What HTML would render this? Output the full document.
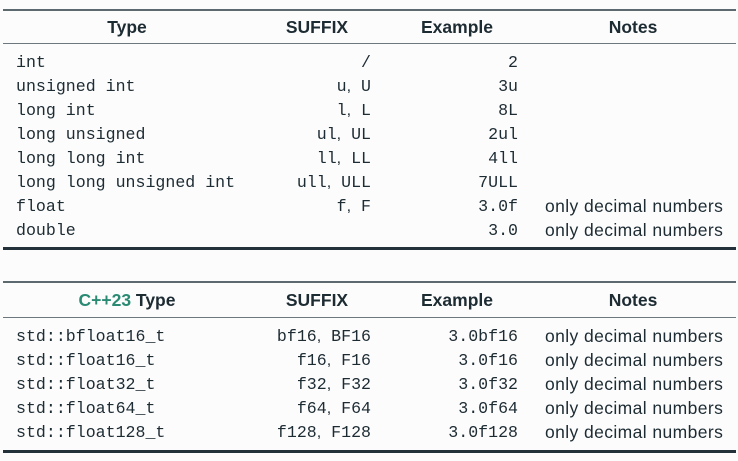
<!DOCTYPE html>
<html><head><meta charset="utf-8"><style>
body{margin:0;width:738px;height:461px;background:#fcfcfc;position:relative;overflow:hidden;color:#1d2b33}
.l{position:absolute;left:3px;width:733px}
.t{position:absolute;white-space:nowrap;line-height:20px}
.m{font-family:"Liberation Mono",monospace;font-size:16.6px}
.s{font-family:"Liberation Sans",sans-serif;font-size:17.5px;letter-spacing:0.4px}
.h{font-family:"Liberation Sans",sans-serif;font-size:17.5px;font-weight:bold;text-align:center;width:200px}
.r{text-align:right;width:300px}
.c{font-family:"Liberation Sans",sans-serif;font-size:16px}
</style></head><body>
<div class="l" style="top:9px;height:2px;background:#5c6a70"></div>
<div class="l" style="top:43px;height:1px;background:#6c787d"></div>
<div class="l" style="top:247px;height:3px;background:#22313a"></div>
<div class="l" style="top:281px;height:2px;background:#5c6a70"></div>
<div class="l" style="top:317px;height:1px;background:#6c787d"></div>
<div class="l" style="top:450px;height:3px;background:#22313a"></div>

<div class="t h" style="left:27px;top:17px">Type</div>
<div class="t h" style="left:217px;top:17px">SUFFIX</div>
<div class="t h" style="left:357px;top:17px">Example</div>
<div class="t h" style="left:533px;top:17px">Notes</div>

<div class="t h" style="left:27px;top:290px"><span style="color:#2a8a72">C++23</span> Type</div>
<div class="t h" style="left:217px;top:290px">SUFFIX</div>
<div class="t h" style="left:357px;top:290px">Example</div>
<div class="t h" style="left:533px;top:290px">Notes</div>

<div class="t m" style="left:16px;top:53px">int</div>
<div class="t m" style="left:16px;top:77px">unsigned int</div>
<div class="t m" style="left:16px;top:101px">long int</div>
<div class="t m" style="left:16px;top:125px">long unsigned</div>
<div class="t m" style="left:16px;top:149px">long long int</div>
<div class="t m" style="left:16px;top:173px">long long unsigned int</div>
<div class="t m" style="left:16px;top:197px">float</div>
<div class="t m" style="left:16px;top:221px">double</div>

<div class="t m r" style="left:71px;top:53px">/</div>
<div class="t m r" style="left:71px;top:77px">u<span class="c">,</span> U</div>
<div class="t m r" style="left:71px;top:101px">l<span class="c">,</span> L</div>
<div class="t m r" style="left:71px;top:125px">ul<span class="c">,</span> UL</div>
<div class="t m r" style="left:71px;top:149px">ll<span class="c">,</span> LL</div>
<div class="t m r" style="left:71px;top:173px">ull<span class="c">,</span> ULL</div>
<div class="t m r" style="left:71px;top:197px">f<span class="c">,</span> F</div>

<div class="t m r" style="left:218px;top:53px">2</div>
<div class="t m r" style="left:218px;top:77px">3u</div>
<div class="t m r" style="left:218px;top:101px">8L</div>
<div class="t m r" style="left:218px;top:125px">2ul</div>
<div class="t m r" style="left:218px;top:149px">4ll</div>
<div class="t m r" style="left:218px;top:173px">7ULL</div>
<div class="t m r" style="left:218px;top:197px">3.0f</div>
<div class="t m r" style="left:218px;top:221px">3.0</div>

<div class="t s" style="left:545px;top:196px">only decimal numbers</div>
<div class="t s" style="left:545px;top:220px">only decimal numbers</div>

<div class="t m" style="left:16px;top:327px">std::bfloat16_t</div>
<div class="t m" style="left:16px;top:351px">std::float16_t</div>
<div class="t m" style="left:16px;top:375px">std::float32_t</div>
<div class="t m" style="left:16px;top:399px">std::float64_t</div>
<div class="t m" style="left:16px;top:423px">std::float128_t</div>

<div class="t m r" style="left:71px;top:327px">bf16<span class="c">,</span> BF16</div>
<div class="t m r" style="left:71px;top:351px">f16<span class="c">,</span> F16</div>
<div class="t m r" style="left:71px;top:375px">f32<span class="c">,</span> F32</div>
<div class="t m r" style="left:71px;top:399px">f64<span class="c">,</span> F64</div>
<div class="t m r" style="left:71px;top:423px">f128<span class="c">,</span> F128</div>

<div class="t m r" style="left:218px;top:327px">3.0bf16</div>
<div class="t m r" style="left:218px;top:351px">3.0f16</div>
<div class="t m r" style="left:218px;top:375px">3.0f32</div>
<div class="t m r" style="left:218px;top:399px">3.0f64</div>
<div class="t m r" style="left:218px;top:423px">3.0f128</div>

<div class="t s" style="left:545px;top:326px">only decimal numbers</div>
<div class="t s" style="left:545px;top:350px">only decimal numbers</div>
<div class="t s" style="left:545px;top:374px">only decimal numbers</div>
<div class="t s" style="left:545px;top:398px">only decimal numbers</div>
<div class="t s" style="left:545px;top:422px">only decimal numbers</div>
</body></html>
